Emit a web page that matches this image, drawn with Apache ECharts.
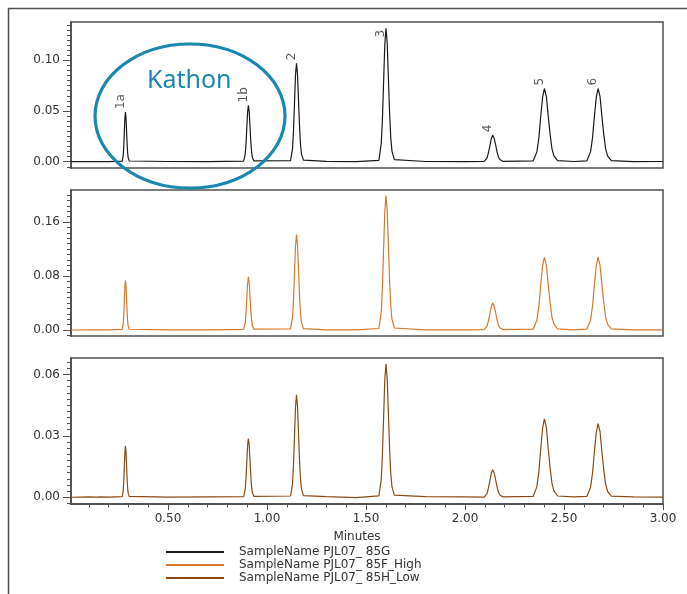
<!DOCTYPE html>
<html><head><meta charset="utf-8">
<script src="https://cdn.jsdelivr.net/npm/echarts@6/dist/echarts.min.js"></script>
<style>html,body{margin:0;padding:0;background:#fff}#c{width:687px;height:594px}</style>
</head><body><div id="c"></div>
<script>
// Retention times (minutes) of the sampled points
const times = [
  0.01, 0.10, 0.14, 0.15, 0.16, 0.20,
  0.2685, 0.274, 0.2768, 0.2795, 0.2823, 0.285, 0.2878, 0.2905, 0.2933, 0.296, 0.2988, 0.3043,
  0.50, 0.70,
  0.882, 0.890, 0.894, 0.898, 0.902, 0.906, 0.910, 0.914, 0.918, 0.922, 0.926, 0.934,
  1.119, 1.129, 1.134, 1.139, 1.144, 1.149, 1.154, 1.159, 1.164, 1.169, 1.174, 1.184,
  1.30, 1.45,
  1.565, 1.577, 1.583, 1.589, 1.595, 1.601, 1.607, 1.613, 1.619, 1.625, 1.631, 1.643,
  1.80, 2.00,
  2.097, 2.111, 2.118, 2.126, 2.133, 2.140, 2.147, 2.155, 2.162, 2.169, 2.176, 2.191,
  2.344, 2.363, 2.373, 2.382, 2.392, 2.401, 2.411, 2.420, 2.430, 2.439, 2.449, 2.468,
  2.55,
  2.615, 2.634, 2.644, 2.653, 2.663, 2.672, 2.682, 2.691, 2.701, 2.710, 2.720, 2.739,
  2.85, 3.00
];
// SampleName PJL07_ 85G
const trace85G = [
  0, 0.0002, 0.0001, 0.0012, 0.0002, 0.0001,
  0.0005, 0.0066, 0.0159, 0.0297, 0.0432, 0.049, 0.0436, 0.0309, 0.0181, 0.0088, 0.0039, 0.0007,
  0.0002, 0.0001,
  0.0006, 0.0075, 0.0180, 0.0337, 0.0490, 0.0555, 0.0494, 0.0350, 0.0205, 0.0100, 0.0044, 0.0008,
  0.0011, 0.0131, 0.0315, 0.0589, 0.0856, 0.097, 0.0863, 0.0611, 0.0359, 0.0175, 0.0078, 0.0015,
  0.0003, 0.0001,
  0.0014, 0.0178, 0.0427, 0.0798, 0.1160, 0.1315, 0.1170, 0.0828, 0.0487, 0.0237, 0.0105, 0.0020,
  0.0002, 0.0001,
  0.0003, 0.0035, 0.0085, 0.0158, 0.0229, 0.026, 0.0231, 0.0164, 0.0096, 0.0047, 0.0021, 0.0004,
  0.0008, 0.0097, 0.0235, 0.0438, 0.0637, 0.0722, 0.0643, 0.0455, 0.0267, 0.0130, 0.0058, 0.0011,
  0.0002,
  0.0008, 0.0097, 0.0235, 0.0438, 0.0637, 0.0722, 0.0643, 0.0455, 0.0267, 0.0130, 0.0058, 0.0011,
  0.0001, 0.0002
];
// SampleName PJL07_ 85F_High
const trace85F = [
  0, 0.0002, 0.0001, 0.0018, 0.0002, 0.0001,
  0.0008, 0.0099, 0.0239, 0.0446, 0.0648, 0.0735, 0.0654, 0.0463, 0.0272, 0.0132, 0.0059, 0.0011,
  0.0002, 0.0001,
  0.0009, 0.0107, 0.0257, 0.0480, 0.0697, 0.079, 0.0703, 0.0498, 0.0292, 0.0142, 0.0063, 0.0012,
  0.0016, 0.0191, 0.0460, 0.0859, 0.1248, 0.1415, 0.1259, 0.0891, 0.0524, 0.0255, 0.0113, 0.0021,
  0.0003, 0.0001,
  0.0022, 0.0269, 0.0648, 0.1211, 0.1760, 0.1995, 0.1776, 0.1257, 0.0738, 0.0359, 0.0160, 0.0030,
  0.0002, 0.0001,
  0.0004, 0.0054, 0.0130, 0.0243, 0.0353, 0.040, 0.0356, 0.0252, 0.0148, 0.0072, 0.0032, 0.0006,
  0.0012, 0.0146, 0.0351, 0.0656, 0.0953, 0.108, 0.0961, 0.0680, 0.0400, 0.0194, 0.0086, 0.0016,
  0.0002,
  0.0012, 0.0146, 0.0351, 0.0656, 0.0953, 0.108, 0.0961, 0.0680, 0.0400, 0.0194, 0.0086, 0.0016,
  0.0001, 0.0002
];
// SampleName PJL07_ 85H_Low
const trace85H = [
  0, 0.0002, 0.0001, 0.0010, 0.0002, 0.0001,
  0.0003, 0.0034, 0.0082, 0.0152, 0.0221, 0.0251, 0.0223, 0.0158, 0.0093, 0.0045, 0.0020, 0.0004,
  0.0001, 0.0002,
  0.0003, 0.0039, 0.0093, 0.0174, 0.0253, 0.0287, 0.0255, 0.0181, 0.0106, 0.0052, 0.0023, 0.0004,
  0.0006, 0.0068, 0.0163, 0.0304, 0.0441, 0.050, 0.0445, 0.0315, 0.0185, 0.0090, 0.0040, 0.0008,
  0.0003, -0.0002,
  0.0007, 0.0088, 0.0212, 0.0396, 0.0575, 0.0652, 0.0580, 0.0411, 0.0241, 0.0117, 0.0052, 0.0010,
  0.0003, 0.0002,
  0.0001, 0.0018, 0.0044, 0.0081, 0.0118, 0.0134, 0.0119, 0.0084, 0.0050, 0.0024, 0.0011, 0.0002,
  0.0004, 0.0052, 0.0124, 0.0232, 0.0338, 0.0383, 0.0341, 0.0241, 0.0142, 0.0069, 0.0031, 0.0006,
  0.0002,
  0.0004, 0.0048, 0.0117, 0.0218, 0.0317, 0.0359, 0.0320, 0.0226, 0.0133, 0.0065, 0.0029, 0.0005,
  0.0002, 0.0001
];
const seriesNames = ['SampleName PJL07_ 85G', 'SampleName PJL07_ 85F_High', 'SampleName PJL07_ 85H_Low'];
// Peak annotations on the top trace
const peakNames = ['1a', '1b', '2', '3', '4', '5', '6'];
const peakTimes = [0.285, 0.906, 1.149, 1.601, 2.140, 2.401, 2.672];
const peakTops = [0.049, 0.0555, 0.097, 0.1315, 0.026, 0.0722, 0.0722];
// Tick labels
const xTickLabels = [0.5, 1.0, 1.5, 2.0, 2.5, 3.0];
const yTicksTop = [0, 0.05, 0.10];
const yTicksMid = [0, 0.08, 0.16];
const yTicksBot = [0, 0.03, 0.06];
const annotationText = 'Kathon';

function steps(a, b, s) { const r = []; for (let v = a; v <= b + 1e-9; v += s) r.push(+v.toFixed(4)); return r; }
const xMinor = steps(0.1, 3.0, 0.1);
const yMinorTop = steps(-0.005, 0.135, 0.005);
const yMinorMid = steps(-0.008, 0.2, 0.008);
const yMinorBot = steps(-0.003, 0.066, 0.003);

const AX = '#505050', TXT = '#333', FONT = 'DejaVu Sans';
const XMIN = 0.01, XMAX = 3.0;
const ranges = [[-0.0062, 0.1378], [-0.0089, 0.2076], [-0.0033, 0.068]];
const majors = [yTicksTop, yTicksMid, yTicksBot];
const minors = [yMinorTop, yMinorMid, yMinorBot];
const colors = ['#1a1a1a', '#d9782d', '#8a4a16'];
const traces = [trace85G, trace85F, trace85H];

const grids = [22, 190, 358].map(t => ({ left: 71, right: 24, top: t, height: 146, show: true, borderColor: AX, borderWidth: 1.5, backgroundColor: 'transparent' }));

const yAxes = [];
ranges.forEach((r, i) => {
  yAxes.push({ gridIndex: i, type: 'value', position: 'left', min: r[0], max: r[1],
    axisLine: { show: true, lineStyle: { color: AX, width: 1.5 } },
    axisTick: { show: true, length: 8, customValues: majors[i], lineStyle: { color: AX, width: 1 } },
    axisLabel: { customValues: majors[i], formatter: v => v.toFixed(2), color: TXT, fontFamily: FONT, fontSize: 12, margin: 11 },
    splitLine: { show: false } });
  yAxes.push({ gridIndex: i, type: 'value', position: 'left', offset: 0, min: r[0], max: r[1],
    axisLine: { show: true, onZero: false, lineStyle: { color: AX, width: 1.5 } },
    axisTick: { show: true, length: 4, customValues: minors[i], lineStyle: { color: AX, width: 1 } },
    axisLabel: { show: true, customValues: minors[i], formatter: () => '', color: 'rgba(0,0,0,0)' }, splitLine: { show: false } });
});

const xAxes = [
  { gridIndex: 0, type: 'value', min: XMIN, max: XMAX, show: false },
  { gridIndex: 1, type: 'value', min: XMIN, max: XMAX, show: false },
  { gridIndex: 2, type: 'value', position: 'bottom', min: XMIN, max: XMAX,
    axisLine: { show: true, onZero: false, lineStyle: { color: AX, width: 1.5 } },
    axisTick: { show: true, length: 6, customValues: xTickLabels, lineStyle: { color: AX } },
    axisLabel: { customValues: xTickLabels, formatter: v => v.toFixed(2), color: TXT, fontFamily: FONT, fontSize: 12, margin: 9 },
    splitLine: { show: false },
    name: 'Minutes', nameLocation: 'middle', nameGap: 27,
    nameTextStyle: { color: TXT, fontFamily: FONT, fontSize: 12, padding: [0, 20, 0, 0] } },
  { gridIndex: 2, type: 'value', position: 'bottom', offset: 0, min: XMIN, max: XMAX,
    axisLine: { show: true, onZero: false, lineStyle: { color: AX, width: 1.5 } },
    axisTick: { show: true, length: 3.5, customValues: xMinor, lineStyle: { color: AX } },
    axisLabel: { show: true, customValues: xMinor, formatter: () => '', color: 'rgba(0,0,0,0)' }, splitLine: { show: false } }
];

const series = traces.map((tr, i) => ({
  name: seriesNames[i], type: 'line', xAxisIndex: i === 2 ? 2 : i, yAxisIndex: i * 2,
  data: times.map((t, k) => [t, tr[k]]), showSymbol: false, symbol: 'none',
  lineStyle: { color: colors[i], width: 1.2 }, itemStyle: { color: colors[i] }, silent: true
}));
series.push({
  type: 'scatter', xAxisIndex: 0, yAxisIndex: 0, symbolSize: 0, silent: true,
  data: peakNames.map((n, i) => {
    const item = { name: n, value: [peakTimes[i], peakTops[i]] };
    // the tallest peak's label sits beside the apex so it stays inside the plot
    if (n === '3') item.label = { offset: [-12, -5] };
    return item;
  }),
  label: { show: true, formatter: '{b}', position: 'top', distance: 3, rotate: 90, align: 'left', verticalAlign: 'middle',
    offset: [0, -5], color: TXT, fontFamily: FONT, fontSize: 12 }
});

const legends = seriesNames.map((n, i) => ({
  data: [n], orient: 'vertical', left: 166, top: 546 + i * 13, itemWidth: 58, itemHeight: 2, itemGap: 0, icon: 'rect',
  selectedMode: false, padding: 0,
  textStyle: { fontFamily: FONT, fontSize: 12, color: TXT, padding: [0, 0, 0, 10] }
}));

const chart = echarts.init(document.getElementById('c'), null, { renderer: 'canvas' });
chart.setOption({
  animation: false,
  backgroundColor: '#fff',
  grid: grids, xAxis: xAxes, yAxis: yAxes, series: series,
  legend: legends,
  graphic: [
    { type: 'rect', shape: { x: 8.5, y: 8.5, width: 1000, height: 1000 }, style: { fill: 'none', stroke: AX, lineWidth: 1.5 }, silent: true, z: 0 },
    { type: 'ellipse', shape: { cx: 190, cy: 116, rx: 95, ry: 72 }, style: { fill: 'none', stroke: '#1a87b0', lineWidth: 3.2 }, silent: true, z: 100 },
    { type: 'text', x: 147, y: 81, style: { text: annotationText, font: '25px "Noto Sans"', fill: '#1a87b0', textVerticalAlign: 'middle' }, silent: true, z: 100 }
  ]
});
</script></body></html>
